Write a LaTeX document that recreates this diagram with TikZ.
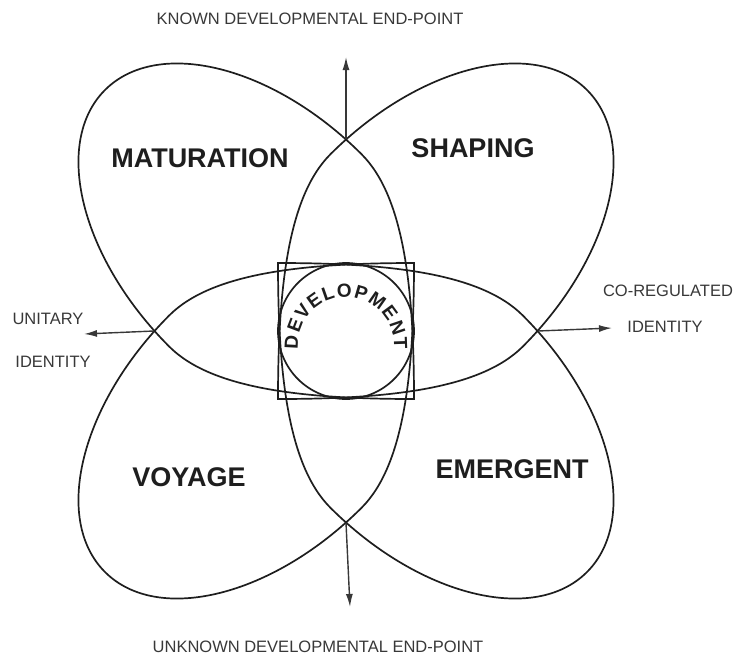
\documentclass[tikz,border=0pt]{standalone}
\usepackage{fontspec}
\setmainfont{Liberation Sans}
\usetikzlibrary{arrows.meta, decorations.text}
\definecolor{InkA}{HTML}{1E1E1E}
\definecolor{InkB}{HTML}{383838}
\tikzset{
  petal/.style={draw=InkA, line width=1.7pt},
  hubring/.style={circle, draw=InkA, line width=1.7pt, minimum size=136pt, inner sep=0pt},
  bigtag/.style={font=\fontsize{27}{27}\selectfont\bfseries, text=InkA, inner sep=0pt},
  smalltag/.style={font=\fontsize{16.5}{16.5}\selectfont, text=InkB, inner sep=0pt},
  arr/.style={-{Latex[length=13pt,width=7pt]}, line width=1.4pt, draw=InkB}
}

\begin{document}
\begin{tikzpicture}[x=1pt, y=-1pt]
  \useasboundingbox (0,0) rectangle (736,659);

  % four petals, inner corner at the centre square
  \foreach \kx/\ky/\ang in {414/399/135, 278/399/45, 414/263/225, 278/263/-45}
    \draw[petal, shift={(\kx,\ky)}, rotate=\ang]
      (0,0) .. controls (78,-78) and (150,-136) .. (210,-136)
      .. controls (335,-136) and (437,-75) .. (437,0)
      .. controls (437,75) and (335,136) .. (210,136)
      .. controls (150,136) and (78,78) .. cycle;

  \node[hubring] (hub) at (346,331) {};
  \path[decorate, decoration={text along path, text align={fit to path},
      text color=InkA, text={|\fontsize{19}{19}\selectfont\bfseries|DEVELOPMENT}}]
    (346,345) ++(-185:48) arc[start angle=-185, end angle=5, radius=48];

  \node[bigtag] (mat) at (200,158) {MATURATION};
  \node[bigtag] (shp) at (473,148) {SHAPING};
  \node[bigtag] (voy) at (189,477) {VOYAGE};
  \node[bigtag] (emg) at (512,469) {EMERGENT};

  \node[smalltag] (known) at (310,19) {KNOWN DEVELOPMENTAL END-POINT};
  \node[smalltag] (unknown) at (318,647) {UNKNOWN DEVELOPMENTAL END-POINT};
  \node[smalltag] (unit) at (48,319) {UNITARY};
  \node[smalltag] (identl) at (53,362) {IDENTITY};
  \node[smalltag] (coreg) at (668,291) {CO-REGULATED};
  \node[smalltag] (identr) at (665,327) {IDENTITY};

  \coordinate (xn) at (346,139);
  \coordinate (xs) at (346,523);
  \coordinate (xw) at (154,331);
  \coordinate (xe) at (538,331);
  \coordinate (tn) at (346,57);
  \coordinate (ts) at (350,607);
  \coordinate (tw) at (84,334);
  \coordinate (te) at (612,328);

  \draw[arr] (xn) -- (tn);
  \draw[arr] (xs) -- (ts);
  \draw[arr] (xw) -- (tw);
  \draw[arr] (xe) -- (te);
\end{tikzpicture}
\end{document}
